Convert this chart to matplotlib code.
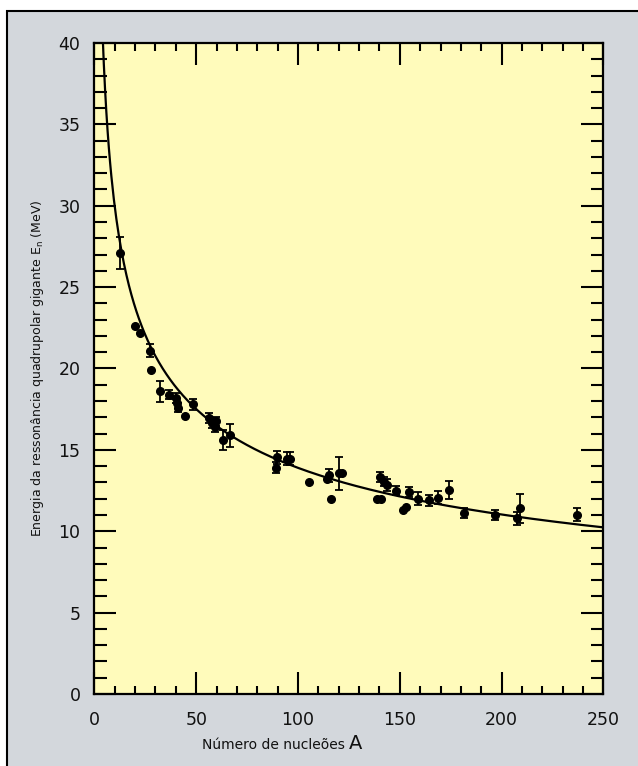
import numpy as np
import matplotlib
matplotlib.use("Agg")
import matplotlib.pyplot as plt
from matplotlib.patches import Rectangle
from matplotlib.ticker import MultipleLocator

# Data
A_vals = [12.8, 20.1, 22.3, 27.5, 28.0, 32.4, 36.5, 40.3, 40.6, 40.9, 44.4, 48.3,
          56.1, 57.8, 59.4, 59.9, 63.0, 66.8, 89.0, 89.6, 94.6, 96.3, 105.3, 114.3,
          115.1, 116.4, 120.0, 121.6, 139.0, 140.6, 140.2, 142.1, 143.7, 148.3,
          151.5, 153.0, 154.4, 159.0, 164.2, 168.6, 174.0, 181.7, 196.6, 207.6,
          209.2, 237.0]
E_vals = [27.1, 22.6, 22.2, 21.1, 19.9, 18.6, 18.4, 18.2, 17.9, 17.6, 17.1, 17.8,
          16.95, 16.65, 16.4, 16.75, 15.6, 15.9, 13.9, 14.55, 14.45, 14.45, 13.0, 13.2,
          13.45, 12.0, 13.55, 13.55, 12.0, 12.0, 13.35, 13.05, 12.85, 12.5,
          11.3, 11.5, 12.4, 12.0, 11.9, 12.05, 12.55, 11.1, 11.0, 10.8,
          11.4, 11.0]
E_err = [1.0, 0, 0, 0.4, 0, 0.65, 0.3, 0.3, 0, 0.3, 0, 0.35,
         0.3, 0.3, 0.3, 0.3, 0.6, 0.7, 0.35, 0.4, 0.4, 0.4, 0, 0,
         0.4, 0, 1.0, 0, 0, 0, 0.3, 0.3, 0.35, 0.3,
         0, 0, 0.3, 0.4, 0.35, 0.4, 0.55, 0.3, 0.3, 0.4,
         0.9, 0.4]

# fitted curve E = C * A^(-1/3)
curve_C = 64.5
curve_exp = -1.0 / 3.0

x_ticks = [0, 50, 100, 150, 200, 250]
y_ticks = [0, 5, 10, 15, 20, 25, 30, 35, 40]

W, H = 638, 766
fig = plt.figure(figsize=(W / 100, H / 100), dpi=100, facecolor="white")

# outer grey panel with black border
fig.patches.append(Rectangle((7 / W, -0.05), 1.1, (H - 11) / H + 0.05,
                             transform=fig.transFigure, facecolor="#d3d7dc",
                             edgecolor="black", linewidth=1.5, zorder=-10))

ax = fig.add_axes([94.4 / W, 72 / H, 509 / W, 651 / H])
ax.set_zorder(5)
ax.set_facecolor("#fffbbb")

A_line = np.linspace(4.0, 250, 400)
ax.plot(A_line, curve_C * A_line ** curve_exp, color="black", lw=1.6, zorder=2)

A_arr = np.array(A_vals)
E_arr = np.array(E_vals)
err_arr = np.array(E_err)
has = err_arr > 0
ax.errorbar(A_arr[has], E_arr[has], yerr=err_arr[has], fmt="none", ecolor="black",
            elinewidth=1.3, capsize=3, capthick=1.3, zorder=3)
ax.plot(A_arr, E_arr, "o", color="black", markersize=5.5, zorder=4)

ax.set_xlim(0, 250)
ax.set_ylim(0, 40)
ax.set_xticks(x_ticks)
ax.set_yticks(y_ticks)
ax.xaxis.set_minor_locator(MultipleLocator(10))
ax.yaxis.set_minor_locator(MultipleLocator(1))

for s in ax.spines.values():
    s.set_linewidth(1.6)
    s.set_color("black")

ax.tick_params(axis="both", which="both", direction="in", top=True, right=True,
               color="black", width=1.5, labelsize=12.5, labelcolor="#111111")
ax.tick_params(axis="x", which="major", length=16, pad=12)
ax.tick_params(axis="x", which="minor", length=6)
ax.tick_params(axis="y", which="major", length=16, pad=10)
ax.tick_params(axis="y", which="minor", length=9)

ax.set_ylabel("Energia da ressonância quadrupolar gigante E$_\\mathregular{n}$ (MeV)",
              fontsize=9, labelpad=9, color="#111111")

ax.text(0.5, -0.085, "Número de nucleões ", transform=ax.transAxes, ha="right",
        va="baseline", fontsize=10, color="#111111")
ax.text(0.5, -0.085, "A", transform=ax.transAxes, ha="left", va="baseline",
        fontsize=14, color="#111111")

fig.savefig("out.png", dpi=100, facecolor=fig.get_facecolor())
